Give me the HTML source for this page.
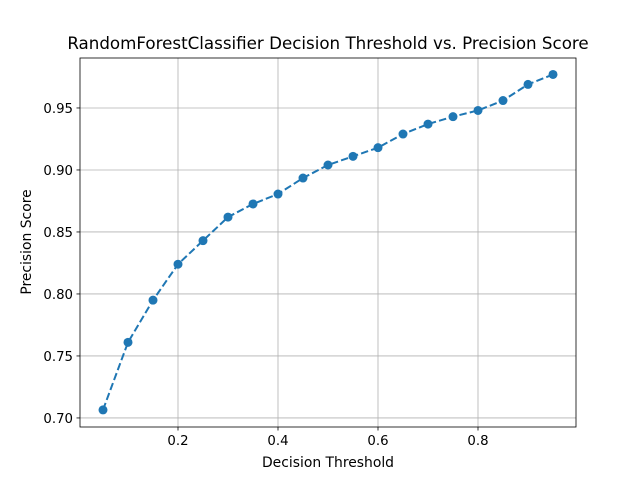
<!DOCTYPE html>
<html><head><meta charset="utf-8"><style>body{margin:0;background:#fff}svg{font-family:"DejaVu Sans","Liberation Sans",sans-serif}</style></head>
<body>
<svg id="chart" width="640" height="480" viewBox="0 0 640 480">
<rect width="640" height="480" fill="#fff"/>
<g id="grid"></g><g id="ticks"></g><g id="series"></g>
<rect x="80" y="58" width="496" height="369" fill="none" stroke="#000" stroke-width="0.8"/>
<text x="328" y="49" text-anchor="middle" font-size="16.7">RandomForestClassifier Decision Threshold vs. Precision Score</text>
<text x="328" y="467" text-anchor="middle" font-size="13.9">Decision Threshold</text>
<text transform="translate(31,242) rotate(-90)" text-anchor="middle" font-size="13.9">Precision Score</text>
</svg>
<script>
const thresholds=[0.05,0.1,0.15,0.2,0.25,0.3,0.35,0.4,0.45,0.5,0.55,0.6,0.65,0.7,0.75,0.8,0.85,0.9,0.95];
const precision=[0.7065,0.761,0.795,0.824,0.843,0.862,0.8726,0.8806,0.8935,0.904,0.911,0.918,0.929,0.937,0.943,0.948,0.956,0.969,0.977];
const xTicks=[0.2,0.4,0.6,0.8];
const yTicks=[0.70,0.75,0.80,0.85,0.90,0.95];
const L=80,R=576,T=58,B=427,X0=0.004,X1=0.996,Y0=0.6927,Y1=0.9903;
const sx=v=>L+(v-X0)/(X1-X0)*(R-L), sy=v=>B-(v-Y0)/(Y1-Y0)*(B-T);
const NS='http://www.w3.org/2000/svg';
function mk(t,a,p){const e=document.createElementNS(NS,t);for(const k in a)e.setAttribute(k,a[k]);p.appendChild(e);return e;}
const g=document.getElementById('grid'),tk=document.getElementById('ticks'),s=document.getElementById('series');
xTicks.forEach(v=>{const x=sx(v);
let l=mk('line',{x1:x,x2:x,y1:T,y2:B,stroke:'#b0b0b0','stroke-width':0.8},g);


let m=mk('line',{x1:x,x2:x,y1:B,y2:B+3.5,stroke:'#000','stroke-width':0.8},tk);


let t=mk('text',{x:x,y:B+18,'text-anchor':'middle','font-size':13.3},tk);t.textContent=v.toFixed(1);

});
yTicks.forEach(v=>{const y=sy(v);
let l=mk('line',{x1:L,x2:R,y1:y,y2:y,stroke:'#b0b0b0','stroke-width':0.8},g);


let m=mk('line',{x1:L-3.5,x2:L,y1:y,y2:y,stroke:'#000','stroke-width':0.8},tk);


let t=mk('text',{x:L-7,y:y+5,'text-anchor':'end','font-size':13.3},tk);t.textContent=v.toFixed(2);

});
const pl=mk('polyline',{points:thresholds.map((v,i)=>sx(v)+','+sy(precision[i])).join(' '),fill:'none',stroke:'#1f77b4','stroke-width':2,'stroke-dasharray':'7.4,3.2'},s);


thresholds.forEach((v,i)=>{const c=mk('circle',{cx:sx(v),cy:sy(precision[i]),r:4.5,fill:'#1f77b4'},s);

});
</script>
</body></html>
